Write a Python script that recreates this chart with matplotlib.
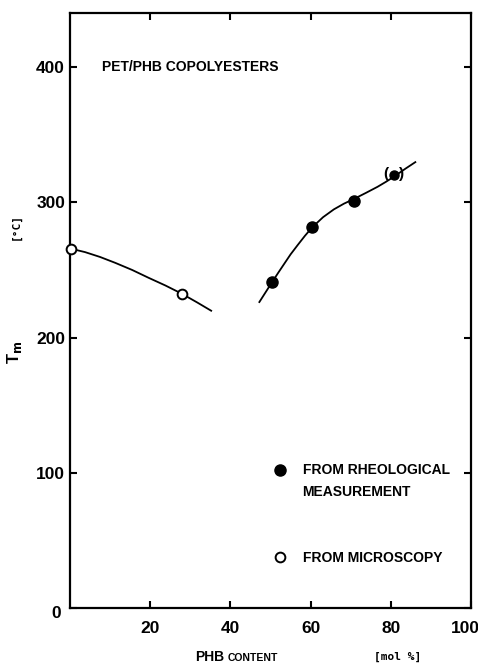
import numpy as np
import matplotlib
matplotlib.use("Agg")
import matplotlib.pyplot as plt
import matplotlib.transforms as mtransforms

plt.rcParams['font.family'] = ['Liberation Sans', 'DejaVu Sans']
plt.rcParams['font.weight'] = 'bold'

# melting points, PET/PHB copolyesters
phb_rheo = [50.4, 60.4, 70.8]
tm_rheo = [241, 282, 301]
phb_rheo_uncertain = [80.8]
tm_rheo_uncertain = [320.5]

phb_micro = [0.25, 27.9]
tm_micro = [265.7, 232.4]

# hand-drawn guide curves
curve_left_x = [0.25, 3.75, 7.5, 11.25, 15.5, 19.6, 23.8, 27.9, 31.7, 35.4]
curve_left_y = [265.7, 263.2, 259.6, 255.3, 250.0, 244.2, 238.5, 232.4, 226.0, 219.5]
curve_right_x = [47.1, 48.8, 50.4, 51.9, 53.3, 55.0, 56.8, 58.6, 60.4, 63.1, 65.8, 68.3,
                 70.8, 73.8, 76.7, 78.8, 80.8, 83.6, 86.3]
curve_right_y = [225.7, 233.6, 241.0, 247.8, 254.0, 261.5, 268.5, 275.3, 281.5, 289.0, 294.8,
                 299.0, 302.5, 307.0, 311.5, 315.2, 319.0, 324.8, 330.1]

fig = plt.figure(figsize=(4.78, 6.64), dpi=100)
ax = fig.add_axes([0.1464, 0.0843, 0.839, 0.8961])

ax.plot(curve_left_x, curve_left_y, color='k', lw=1.3, solid_capstyle='butt')
ax.plot(curve_right_x, curve_right_y, color='k', lw=1.3, solid_capstyle='butt')

ax.plot(phb_micro, tm_micro, 'o', ms=7, mfc='white', mec='k', mew=1.4, clip_on=False, zorder=5)
ax.plot(phb_rheo, tm_rheo, 'o', ms=8, color='k', zorder=5)
ax.plot(phb_rheo_uncertain, tm_rheo_uncertain, 'o', ms=6.5, color='k', zorder=5)
for x, y in zip(phb_rheo_uncertain, tm_rheo_uncertain):
    ax.text(x - 2.0, y + 0.5, '(', ha='center', va='center', fontsize=11)
    ax.text(x + 2.0, y + 0.5, ')', ha='center', va='center', fontsize=11)

ax.set_xlim(0, 100)
ax.set_ylim(0, 440)
ax.set_xticks([20, 40, 60, 80, 100])
ax.set_yticks([0, 100, 200, 300, 400])
ax.set_yticklabels(['', '100', '200', '300', '400'])
ax.tick_params(direction='in', length=5, width=1.5, top=True, right=True, labelsize=12.5)
ax.tick_params(axis='y', pad=3.5)
ax.tick_params(axis='x', pad=9)
for s in ax.spines.values():
    s.set_linewidth(1.6)

# last x label sits a little inside the frame
lab = ax.get_xticklabels()[-1]
lab.set_transform(lab.get_transform() + mtransforms.ScaledTranslation(-6 / 100, 0, fig.dpi_scale_trans))

fig.text(56.5 / 478, 1 - 614 / 664, '0', fontsize=12.5, ha='center', va='center')

ax.text(8, 400, 'PET/PHB COPOLYESTERS', fontsize=10, va='center')

# legend drawn by hand
ax.plot([52.3], [102], 'o', ms=8, color='k')
ax.text(58, 102, 'FROM RHEOLOGICAL', fontsize=10, va='center')
ax.text(58, 86, 'MEASUREMENT', fontsize=10, va='center')
ax.plot([52.3], [38], 'o', ms=7, mfc='white', mec='k', mew=1.4)
ax.text(58, 37, 'FROM MICROSCOPY', fontsize=10, va='center')

fig.text(14 / 478, 1 - 352 / 664, r'T$_{\mathrm{m}}$', rotation=90, fontsize=12,
         ha='center', va='center')
fig.text(16 / 478, 1 - 226 / 664, '[°C]', rotation=90, fontsize=8,
         family='DejaVu Sans Mono', ha='center', va='center')
fig.text(195 / 478, 1 - 657 / 664, 'PHB', fontsize=10, ha='left', va='center')
fig.text(228 / 478, 1 - 658 / 664, 'CONTENT', fontsize=7.5, ha='left', va='center')
fig.text(398 / 478, 1 - 657 / 664, '[mol %]', fontsize=8, family='DejaVu Sans Mono',
         ha='center', va='center')

fig.savefig('out.png', dpi=100)
